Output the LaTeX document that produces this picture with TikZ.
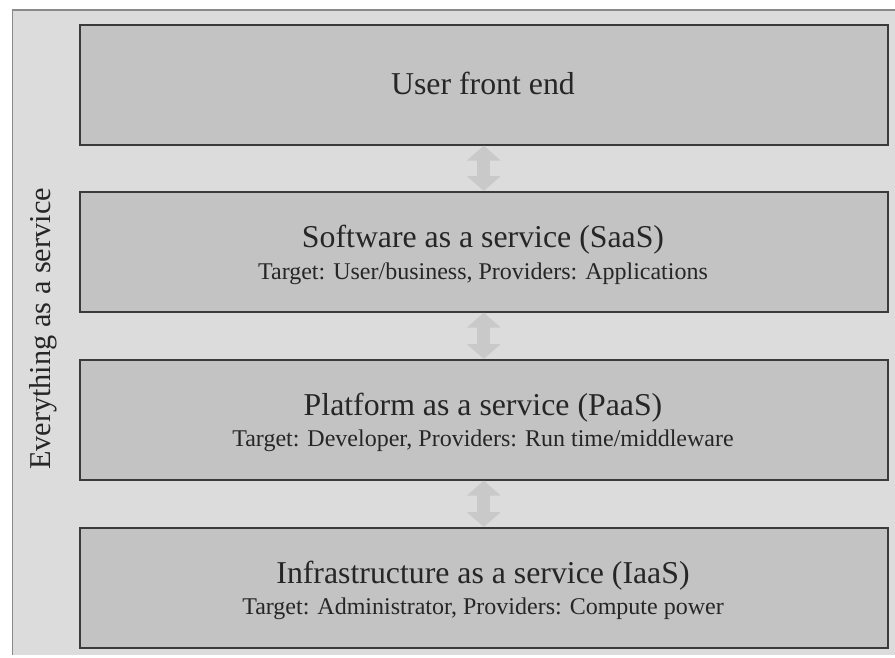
\documentclass[tikz,border=0pt]{standalone}
\usepackage{fontspec}
\setmainfont{Liberation Serif}
\usetikzlibrary{arrows.meta}
\definecolor{panelbg}{HTML}{DCDCDC}
\definecolor{boxfill}{HTML}{C3C3C3}
\definecolor{boxline}{HTML}{3A3A3A}
\definecolor{frameline}{HTML}{8A8A8A}
\definecolor{arrowfill}{HTML}{C9C9C9}
\definecolor{inkgray}{HTML}{262626}
\begin{document}
\begin{tikzpicture}[x=1pt,y=-1pt,
  layer/.style={draw=boxline, line width=1.6pt, fill=boxfill,
    minimum width=808pt, minimum height=120pt, inner sep=0pt, anchor=north west},
  title/.style={font=\fontsize{31.8}{36}\selectfont, text=inkgray, anchor=base, inner sep=0pt},
  sidetitle/.style={font=\fontsize{30.3}{34}\selectfont, text=inkgray, anchor=base, inner sep=0pt},
  subtitle/.style={font=\fontsize{24}{28}\selectfont, text=inkgray, anchor=base, inner sep=0pt},
  link/.style={arrowfill, line width=13pt,
    {Triangle[width=33pt,length=15pt]}-{Triangle[width=33pt,length=15pt]}}]
\useasboundingbox (0,0) rectangle (895,657);
\fill[white] (0,0) rectangle (895,657);
% outer panel
\fill[panelbg] (12,10) rectangle (895,655);
\draw[frameline, line width=1.6pt] (12.5,655) -- (12.5,10) -- (895,10);
% layers
\node[layer] (ufe)  at (79,24)  {};
\node[layer] (saas) at (79,191) {};
\node[layer] (paas) at (79,359) {};
\node[layer] (iaas) at (79,527) {};
% links between layers
\draw[link] (ufe.south)  -- (saas.north);
\draw[link] (saas.south) -- (paas.north);
\draw[link] (paas.south) -- (iaas.north);
% labels
\node[title] (ufeT) at (483,94) {User front end};
\node[title] (saasT) at (483,247) {Software as a service (SaaS)};
\node[subtitle] (saasS) at (483,279) {Target: User/business, Providers: Applications};
\node[title] (paasT) at (483,415) {Platform as a service (PaaS)};
\node[subtitle] (paasS) at (483,446) {Target: Developer, Providers: Run time/middleware};
\node[title] (iaasT) at (483,583) {Infrastructure as a service (IaaS)};
\node[subtitle] (iaasS) at (483,614) {Target: Administrator, Providers: Compute power};
\node[sidetitle, rotate=90] (xaas) at (50,329) {Everything as a service};
\end{tikzpicture}
\end{document}
